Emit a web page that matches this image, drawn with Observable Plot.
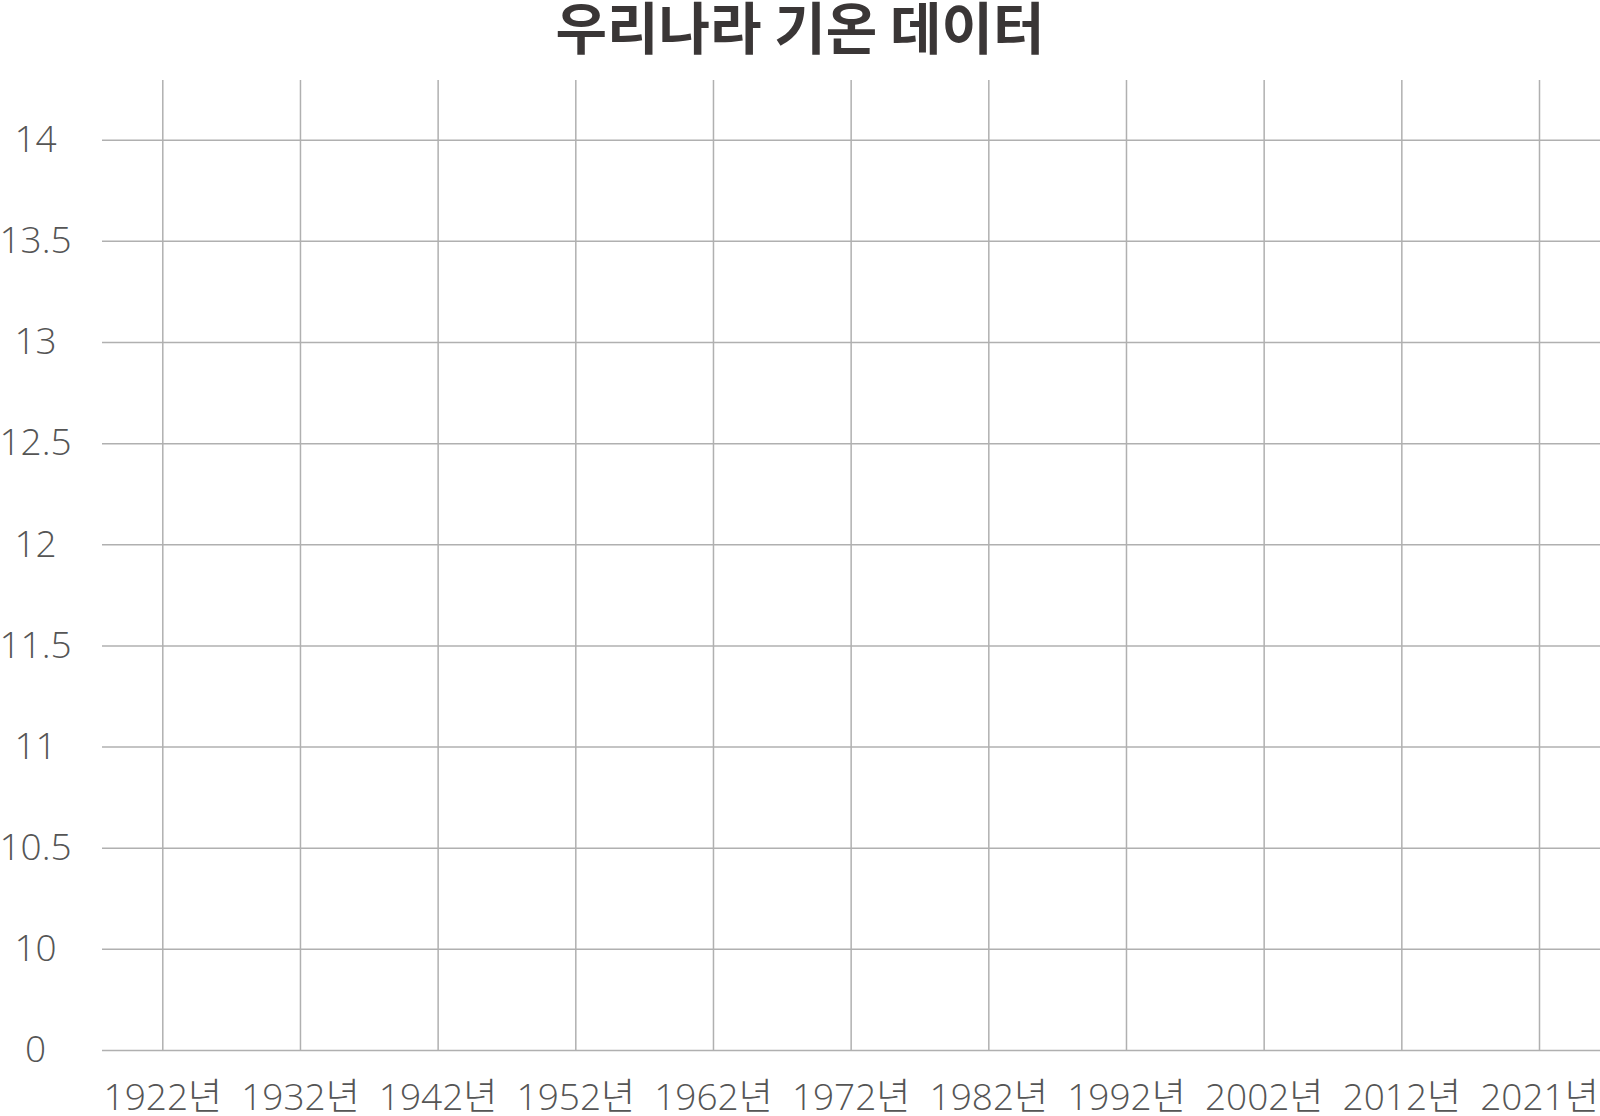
<!DOCTYPE html>
<html>
<head>
<meta charset="utf-8">
<script src="https://cdn.jsdelivr.net/npm/d3@7"></script>
<script src="https://cdn.jsdelivr.net/npm/@observablehq/plot@0.6"></script>
<style>
  html, body { margin: 0; padding: 0; background: #fff; width: 1600px; height: 1116px; overflow: hidden; }
  #title { width: 1600px; height: 60px; overflow: visible; text-align: center; font-family: "Noto Sans CJK KR", sans-serif; font-weight: 700; font-size: 56px; line-height: 50px; color: #3a3636; white-space: nowrap; }
  #chart { width: 1600px; height: 1056px; }
  #chart svg { display: block; max-width: none !important; }
</style>
</head>
<body>
<div id="title">우리나라 기온 데이터</div>
<div id="chart"></div>
<script>
const yearLabels = ["1922년","1932년","1942년","1952년","1962년","1972년","1982년","1992년","2002년","2012년","2021년"];
const tempTicks = ["0","10","10.5","11","11.5","12","12.5","13","13.5","14"];

const chart = Plot.plot({
  width: 1600,
  height: 1056,
  marginLeft: 102,
  marginRight: 0,
  marginTop: 20,
  marginBottom: 66,
  style: { fontFamily: "'Open Sans', 'Noto Sans CJK KR', sans-serif", fontWeight: 300, fontSize: "37px", color: "#555", background: "#fff", maxWidth: "none" },
  x: { type: "point", domain: yearLabels, range: [162.3, 1539], padding: 0, round: false },
  y: { type: "point", domain: tempTicks, range: [990, 79.7], padding: 0, round: false },
  marks: [
    Plot.ruleY(tempTicks, { stroke: "#b0b0b0", strokeWidth: 1.5, strokeOpacity: 1 }),
    Plot.ruleX(yearLabels, { stroke: "#b0b0b0", strokeWidth: 1.5, strokeOpacity: 1 }),
    Plot.axisY({ tickSize: 0, tickPadding: 67, textAnchor: "middle", fill: "#555", fontSize: 37 }),
    Plot.axisX({ tickSize: 0, tickPadding: 33, fill: "#555", fontSize: 37 })
  ]
});
document.getElementById("chart").appendChild(chart);
</script>
</body>
</html>
